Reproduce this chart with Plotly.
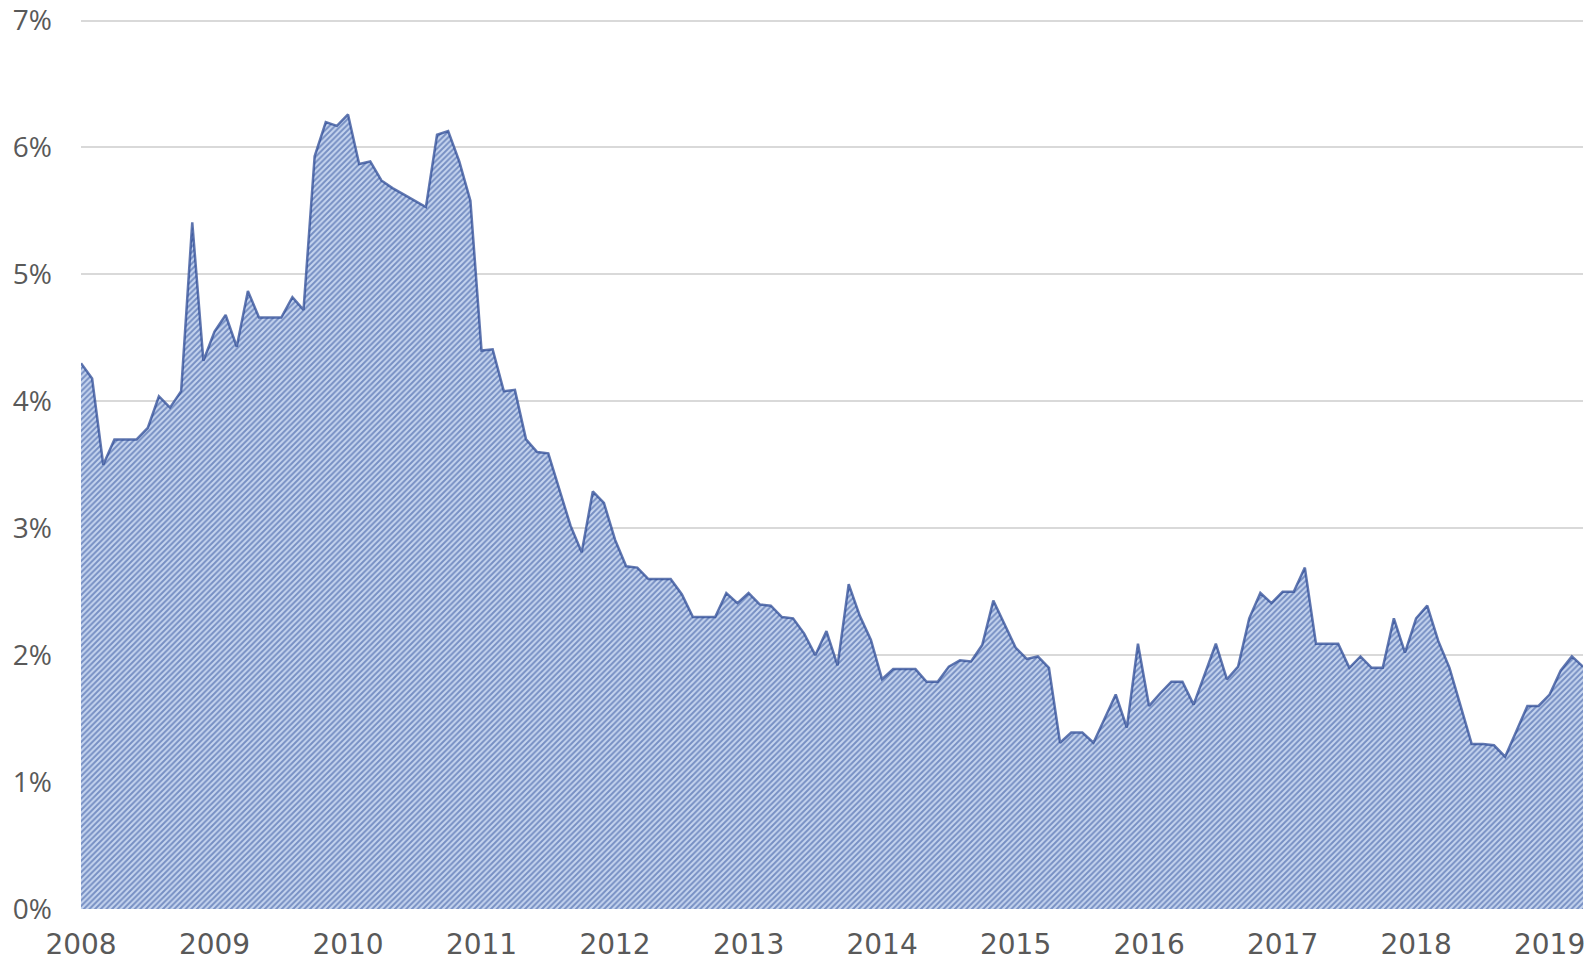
import plotly.graph_objects as go

# Monthly values, Jan 2008 .. Apr 2019 (percent)
rate_2008 = [4.30, 4.18, 3.50, 3.70, 3.70, 3.70, 3.79, 4.04, 3.95, 4.08, 5.41, 4.32]
rate_2009 = [4.55, 4.68, 4.43, 4.87, 4.66, 4.66, 4.66, 4.82, 4.72, 5.93, 6.20, 6.17]
rate_2010 = [6.26, 5.87, 5.89, 5.74, 5.68, 5.63, 5.58, 5.53, 6.10, 6.13, 5.89, 5.58]
rate_2011 = [4.40, 4.41, 4.08, 4.09, 3.70, 3.60, 3.59, 3.30, 3.02, 2.81, 3.29, 3.20]
rate_2012 = [2.91, 2.70, 2.69, 2.60, 2.60, 2.60, 2.48, 2.30, 2.30, 2.30, 2.49, 2.41]
rate_2013 = [2.49, 2.40, 2.39, 2.30, 2.29, 2.17, 2.00, 2.19, 1.92, 2.56, 2.31, 2.12]
rate_2014 = [1.81, 1.89, 1.89, 1.89, 1.79, 1.79, 1.91, 1.96, 1.95, 2.08, 2.43, 2.25]
rate_2015 = [2.06, 1.97, 1.99, 1.90, 1.31, 1.39, 1.39, 1.31, 1.50, 1.69, 1.43, 2.09]
rate_2016 = [1.60, 1.70, 1.79, 1.79, 1.61, 1.85, 2.09, 1.81, 1.91, 2.29, 2.49, 2.41]
rate_2017 = [2.50, 2.50, 2.69, 2.09, 2.09, 2.09, 1.90, 1.99, 1.90, 1.90, 2.29, 2.02]
rate_2018 = [2.29, 2.39, 2.11, 1.90, 1.60, 1.30, 1.30, 1.29, 1.20, 1.40, 1.60, 1.60]
rate_2019 = [1.69, 1.88, 1.99, 1.91]

values = (rate_2008 + rate_2009 + rate_2010 + rate_2011 + rate_2012 + rate_2013
          + rate_2014 + rate_2015 + rate_2016 + rate_2017 + rate_2018 + rate_2019)
months = list(range(len(values)))

year_labels = ["2008", "2009", "2010", "2011", "2012", "2013",
               "2014", "2015", "2016", "2017", "2018", "2019"]
year_ticks = [12 * i for i in range(len(year_labels))]

y_ticks = [0, 1, 2, 3, 4, 5, 6, 7]
y_labels = [f"{v}%" for v in y_ticks]

fig = go.Figure()
fig.add_trace(go.Scatter(
    x=months, y=values,
    mode="lines",
    fill="tozeroy",
    fillcolor="#c6d5ef",
    fillpattern=dict(shape="/", fgcolor="#284a98", bgcolor="#c6d5ef",
                     size=4, solidity=0.5),
    line=dict(color="rgba(45,75,150,0.75)", width=2.5),
    hoverinfo="skip",
    showlegend=False,
))

fig.update_layout(
    width=1594, height=965,
    margin=dict(l=81, r=11, t=18, b=56, autoexpand=False),
    paper_bgcolor="white",
    plot_bgcolor="white",
    xaxis=dict(
        range=[0, len(values) - 1],
        tickmode="array", tickvals=year_ticks, ticktext=year_labels,
        showgrid=False, zeroline=False, showline=False,
        ticks="", ticklabelstandoff=16, automargin=False,
        tickfont=dict(family="DejaVu Sans", size=28, color="#595959"),
    ),
    yaxis=dict(
        range=[0, 7.02],
        tickmode="array", tickvals=y_ticks, ticktext=y_labels,
        showgrid=True, gridcolor="#d9d9d9", gridwidth=1.5,
        zeroline=False, showline=False,
        ticks="", ticklabelstandoff=28, automargin=False,
        tickfont=dict(family="Open Sans", size=28, color="#595959"),
    ),
)

fig.write_html("out.html",
               config={"displayModeBar": False},
               post_script="document.body.style.margin='0';document.body.style.overflow='hidden';")
